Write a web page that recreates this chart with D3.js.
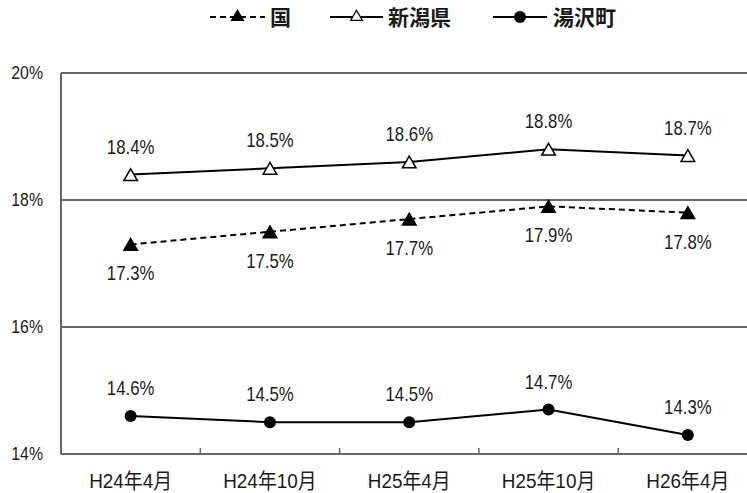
<!DOCTYPE html>
<html>
<head>
<meta charset="utf-8">
<script src="https://cdn.jsdelivr.net/npm/d3@7"></script>
<style>
  html, body { margin: 0; padding: 0; background: #fff; }
  svg { display: block; }
  text { font-family: "Liberation Sans", Arial, "Noto Sans CJK JP", sans-serif; fill: #1a1a1a; }
  .legend text { font-family: "Noto Sans CJK JP", sans-serif; font-weight: 700; }
</style>
</head>
<body>
<svg id="chart" width="747" height="493"></svg>
<script>
// Period labels along the x axis
const categories = ["H24年4月", "H24年10月", "H25年4月", "H25年10月", "H26年4月"];
// Share of population (%) for each area
const kuni = [17.3, 17.5, 17.7, 17.9, 17.8];      // 国
const niigata = [18.4, 18.5, 18.6, 18.8, 18.7];   // 新潟県
const yuzawa = [14.6, 14.5, 14.5, 14.7, 14.3];    // 湯沢町
const yTicks = [14, 16, 18, 20];

const series = [
  { name: "国", values: kuni, dash: "6,4", marker: "tri", fill: "#000", labelPos: "below" },
  { name: "新潟県", values: niigata, dash: null, marker: "tri", fill: "#fff", labelPos: "above" },
  { name: "湯沢町", values: yuzawa, dash: null, marker: "circle", fill: "#000", labelPos: "above" }
];

const svg = d3.select("#chart");
const plotLeft = 61, plotTop = 73, plotBottom = 454;
const bandW = 139.3;

const x = d3.scaleBand().domain(categories).range([plotLeft, plotLeft + bandW * categories.length]).padding(0);
const y = d3.scaleLinear().domain([14, 20]).range([plotBottom, plotTop]);
const cx = c => x(c) + x.bandwidth() / 2;

const grid = "#666";

// horizontal gridlines at each tick
svg.append("g").selectAll("line").data(yTicks).join("line")
  .attr("x1", plotLeft).attr("x2", 747)
  .attr("y1", d => y(d)).attr("y2", d => y(d))
  .attr("stroke", grid).attr("stroke-width", 2);

// left axis line
svg.append("line")
  .attr("x1", plotLeft).attr("x2", plotLeft).attr("y1", y(20)).attr("y2", y(14))
  .attr("stroke", grid).attr("stroke-width", 2);

// category boundary ticks on the bottom axis (pointing inward)
svg.append("g").selectAll("line").data(categories.slice(1)).join("line")
  .attr("x1", d => x(d)).attr("x2", d => x(d))
  .attr("y1", plotBottom).attr("y2", plotBottom - 6)
  .attr("stroke", grid).attr("stroke-width", 1.5);

// y tick labels
svg.append("g").selectAll("text").data(yTicks).join("text")
  .attr("transform", d => `translate(43,${y(d) + 6}) scale(0.88,1)`)
  .attr("text-anchor", "end")
  .style("font-size", "18px")
  .text(d => d + "%");

// x tick labels
svg.append("g").selectAll("text").data(categories).join("text")
  .attr("transform", d => `translate(${cx(d)},${488}) scale(0.9,1)`)
  .attr("text-anchor", "middle")
  .style("font-size", "21px")
  .text(d => d);

const tri = d3.symbol().type(d3.symbolTriangle).size(80);

series.forEach(s => {
  const pts = categories.map((c, i) => ({ c, v: s.values[i] }));
  const line = d3.line().x(d => cx(d.c)).y(d => y(d.v));
  svg.append("path")
    .datum(pts)
    .attr("d", line)
    .attr("fill", "none")
    .attr("stroke", "#000")
    .attr("stroke-width", 2)
    .attr("stroke-dasharray", s.dash);

  const g = svg.append("g");
  if (s.marker === "tri") {
    g.selectAll("path").data(pts).join("path")
      .attr("d", tri)
      .attr("transform", d => `translate(${cx(d.c)},${y(d.v) + 2})`)
      .attr("fill", s.fill).attr("stroke", "#000").attr("stroke-width", 1.5);
  } else {
    g.selectAll("circle").data(pts).join("circle")
      .attr("cx", d => cx(d.c)).attr("cy", d => y(d.v)).attr("r", 6)
      .attr("fill", s.fill);
  }

  svg.append("g").selectAll("text").data(pts).join("text")
    .attr("transform", d => {
      const ty = s.labelPos === "above" ? y(d.v) - 21 : y(d.v) + 36;
      return `translate(${cx(d.c)},${ty}) scale(0.84,1)`;
    })
    .attr("text-anchor", "middle")
    .style("font-size", "20px")
    .text(d => d.v.toFixed(1) + "%");
});

// legend
const legend = svg.append("g").attr("class", "legend");
const legendItems = [
  { s: series[0], x0: 210, x1: 265, tx: 270 },
  { s: series[1], x0: 330, x1: 383, tx: 388 },
  { s: series[2], x0: 493, x1: 547, tx: 553 }
];
const ly = 17;
legendItems.forEach(it => {
  legend.append("line")
    .attr("x1", it.x0).attr("x2", it.x1).attr("y1", ly).attr("y2", ly)
    .attr("stroke", "#000").attr("stroke-width", 2)
    .attr("stroke-dasharray", it.s.dash);
  const mx = (it.x0 + it.x1) / 2;
  if (it.s.marker === "tri") {
    legend.append("path")
      .attr("d", d3.symbol().type(d3.symbolTriangle).size(60))
      .attr("transform", `translate(${mx},${ly})`)
      .attr("fill", it.s.fill).attr("stroke", "#000").attr("stroke-width", 1.3);
  } else {
    legend.append("circle").attr("cx", mx).attr("cy", ly).attr("r", 6).attr("fill", "#000");
  }
  legend.append("text")
    .attr("x", it.tx).attr("y", ly + 8)
    .style("font-size", "21px")
    .text(it.s.name);
});
</script>
</body>
</html>
